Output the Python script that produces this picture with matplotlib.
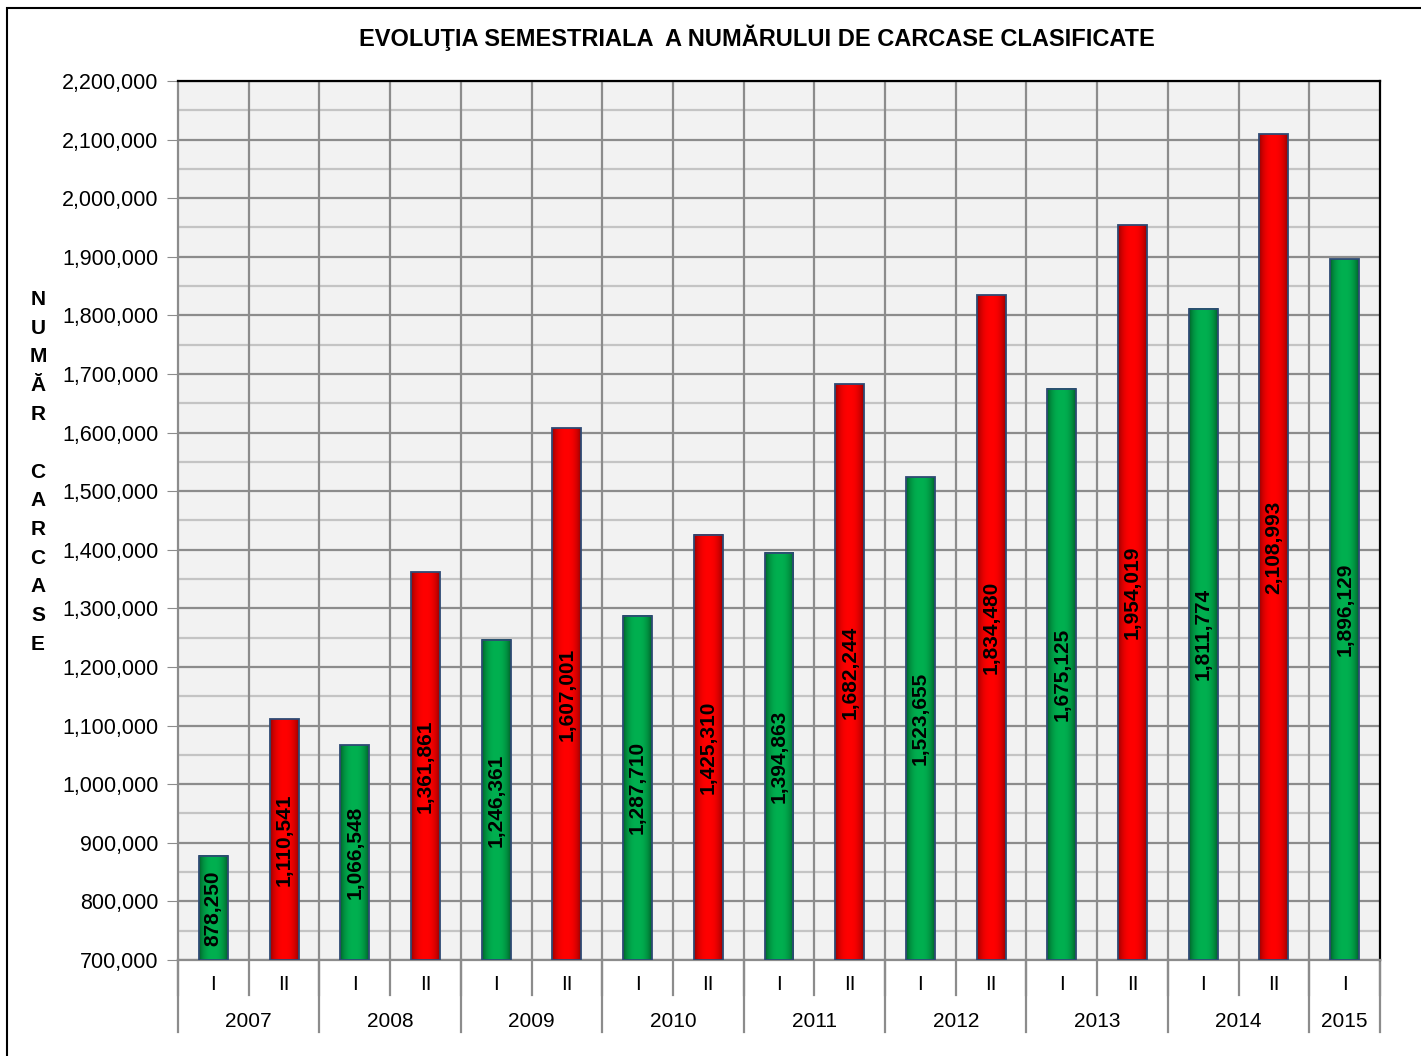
"""
Semester evolution of classified carcasses
"""
import matplotlib
matplotlib.use("Agg")
import matplotlib.pyplot as plt
import numpy as np
from matplotlib.colors import to_rgb
from matplotlib.patches import Rectangle

years = ["2007", "2008", "2009", "2010", "2011", "2012", "2013", "2014", "2015"]
semesters = ["I", "II", "I", "II", "I", "II", "I", "II", "I", "II",
             "I", "II", "I", "II", "I", "II", "I"]
values = [878250, 1110541, 1066548, 1361861, 1246361, 1607001, 1287710,
          1425310, 1394863, 1682244, 1523655, 1834480, 1675125, 1954019,
          1811774, 2108993, 1896129]
per_year = [2, 2, 2, 2, 2, 2, 2, 2, 1]

title = "EVOLUŢIA SEMESTRIALA  A NUMĂRULUI DE CARCASE CLASIFICATE"
ylabel = "NUMĂR CARCASE"

plt.rcParams["font.family"] = ["Liberation Sans", "DejaVu Sans"]

# gradient colours (edge, centre) per semester
colors = {"I": ("#00632a", "#00b050"), "II": ("#9a0000", "#ff0000")}


def gradient(edge, centre, n=64):
    """horizontal cylinder-like gradient"""
    t = np.linspace(-1, 1, n)
    w = 1 - np.abs(t) ** 2.5
    e, c = np.array(to_rgb(edge)), np.array(to_rgb(centre))
    return (e[None, :] + (c - e)[None, :] * w[:, None])[None, :, :]


fig = plt.figure(figsize=(14.21, 10.56), dpi=100)
ax = fig.add_axes([178 / 1421, 1 - 960 / 1056, (1380 - 178) / 1421, (960 - 81) / 1056])
ax.set_facecolor("#f2f2f2")

ymin, ymax = 700000, 2200000
x = np.arange(len(values))
width = 0.41

for xi, v, s in zip(x, values, semesters):
    edge, centre = colors[s]
    ax.imshow(gradient(edge, centre), extent=(xi - width / 2, xi + width / 2, ymin, v),
              aspect="auto", zorder=3, interpolation="bilinear")
    ax.add_patch(Rectangle((xi - width / 2, ymin), width, v - ymin, fill=False,
                           edgecolor="#2e4a74", linewidth=1.3, zorder=4))
    ax.text(xi, (ymin + v) / 2, f"{v:,}", rotation=90, ha="center", va="center",
            fontsize=15, fontweight="bold", color="black", zorder=5)

ax.set_xlim(-0.5, len(values) - 0.5)
ax.set_ylim(ymin, ymax)

# grid: major / minor horizontal and category separators
yt = np.arange(ymin, ymax + 1, 100000)
ax.set_yticks(yt)
ax.set_yticklabels([f"{t:,}" for t in yt])
ax.set_yticks(np.arange(ymin + 50000, ymax, 100000), minor=True)
ax.grid(which="major", axis="y", color="#8c8c8c", linewidth=1.6, zorder=0)
ax.grid(which="minor", axis="y", color="#c4c4c4", linewidth=1.6, zorder=0)
ax.set_axisbelow(True)
for b in np.arange(0.5, len(values) - 0.5):
    ax.axvline(b, color="#8c8c8c", linewidth=1.6, zorder=1)
ax.tick_params(axis="y", which="major", length=8, color="#8c8c8c", labelsize=15.5, pad=6)
ax.tick_params(axis="y", which="minor", length=0)
ax.set_xticks([])

ax.spines["top"].set_color("black")
ax.spines["right"].set_color("black")
ax.spines["top"].set_linewidth(1.6)
ax.spines["right"].set_linewidth(1.6)
ax.spines["left"].set_color("#8c8c8c")
ax.spines["bottom"].set_color("#8c8c8c")
ax.spines["left"].set_linewidth(1.6)
ax.spines["bottom"].set_linewidth(1.6)

# two-level category axis
tr = ax.get_xaxis_transform()
for xi, s in zip(x, semesters):
    ax.text(xi, -0.0284, s, transform=tr, ha="center", va="center", fontsize=15)
bounds = np.concatenate([[0], np.cumsum(per_year)]) - 0.5
for b in np.arange(-0.5, len(values)):
    ax.plot([b, b], [0, -0.04], transform=tr, color="#8c8c8c", lw=1.6, clip_on=False)
for b in bounds:
    ax.plot([b, b], [0, -0.0819], transform=tr, color="#8c8c8c", lw=1.6, clip_on=False)
for yr, b0, b1 in zip(years, bounds[:-1], bounds[1:]):
    ax.text((b0 + b1) / 2, -0.0694, yr, transform=tr, ha="center", va="center", fontsize=15)

fig.text(757 / 1421, 1 - 38 / 1056, title, ha="center", va="center",
         fontsize=17, fontweight="bold")
fig.text(38 / 1421, 1 - 472 / 1056, "\n".join(ylabel), ha="center", va="center",
         fontsize=15, fontweight="bold", linespacing=1.65)

# outer frame
fig.add_artist(Rectangle((7 / 1421, -0.01), 1.02, 1 - 8 / 1056 + 0.01,
                         transform=fig.transFigure, fill=False,
                         edgecolor="black", linewidth=1.5))

fig.savefig("out.png", dpi=100)
